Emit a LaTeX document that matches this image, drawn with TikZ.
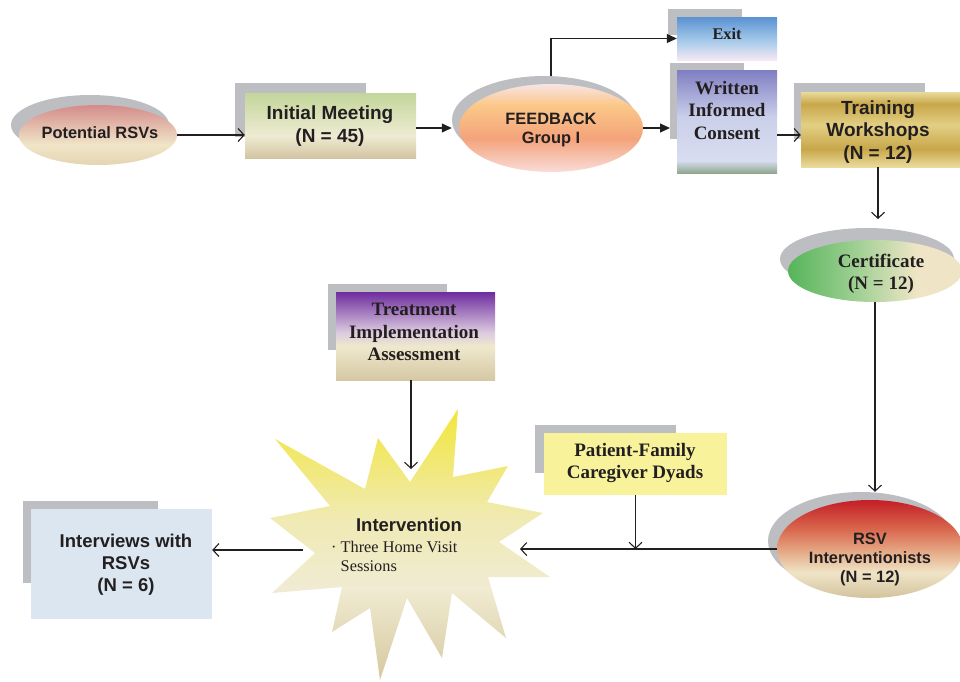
\documentclass[tikz,border=0pt]{standalone}
\usepackage{fontspec}
\setmainfont{Liberation Serif}
\setsansfont{Liberation Sans}
\usetikzlibrary{shapes.geometric,arrows.meta}

\definecolor{ink}{HTML}{231F20}
\definecolor{shadowgray}{HTML}{BDBEC2}
\definecolor{potrose}{HTML}{D48C8B}
\definecolor{potcream}{HTML}{F0E5C8}
\definecolor{pottan}{HTML}{E4D5B2}
\definecolor{meetgreen}{HTML}{C3D69B}
\definecolor{meetcream}{HTML}{EEEBD2}
\definecolor{meettan}{HTML}{D3C4A2}
\definecolor{fbpale}{HTML}{F8E4E6}
\definecolor{fborange}{HTML}{FBC888}
\definecolor{fbsalmon}{HTML}{F4A37B}
\definecolor{fbpink}{HTML}{F9DCD8}
\definecolor{exitblue}{HTML}{5B92D2}
\definecolor{exitsky}{HTML}{A7CBEA}
\definecolor{exitpink}{HTML}{F5E8F2}
\definecolor{wicpurple}{HTML}{7F7EC2}
\definecolor{wiclav}{HTML}{CBD0EA}
\definecolor{wicpale}{HTML}{D8DDF0}
\definecolor{wicgreen}{HTML}{8FA88E}
\definecolor{goldlight}{HTML}{EADB9C}
\definecolor{golddark}{HTML}{C8A74A}
\definecolor{goldmid}{HTML}{E2CF84}
\definecolor{certgreen}{HTML}{56B45A}
\definecolor{certmint}{HTML}{A0D094}
\definecolor{certcream}{HTML}{EFE5C6}
\definecolor{treatpurple}{HTML}{6E2C9E}
\definecolor{treatlilac}{HTML}{DCCBE0}
\definecolor{treatcream}{HTML}{EFE8CC}
\definecolor{treattan}{HTML}{D5C8A4}
\definecolor{dyadyellow}{HTML}{F8F39B}
\definecolor{rsvred}{HTML}{C41F26}
\definecolor{rsvorange}{HTML}{D9684E}
\definecolor{rsvpeach}{HTML}{E6AE8A}
\definecolor{rsvcream}{HTML}{EFE4C6}
\definecolor{rsvtan}{HTML}{D3C39E}
\definecolor{intwblue}{HTML}{DCE6F1}
\definecolor{staryellow}{HTML}{F2E63A}
\definecolor{starpale}{HTML}{F0EAB2}
\definecolor{starcream}{HTML}{F0EBD2}
\definecolor{startan}{HTML}{D6C89E}

\pgfdeclareverticalshading{potshade}{100bp}{color(0bp)=(pottan); color(25bp)=(pottan); color(42bp)=(potcream); color(75bp)=(potrose); color(100bp)=(potrose)}
\pgfdeclareverticalshading{meetshade}{100bp}{color(0bp)=(meettan); color(25bp)=(meettan); color(42bp)=(meetcream); color(75bp)=(meetgreen); color(100bp)=(meetgreen)}
\pgfdeclareverticalshading{fbshade}{100bp}{color(0bp)=(fbpink); color(25bp)=(fbpink); color(44bp)=(fbsalmon); color(63bp)=(fborange); color(75bp)=(fbpale); color(100bp)=(fbpale)}
\pgfdeclareverticalshading{exitshade}{100bp}{color(0bp)=(exitpink); color(25bp)=(exitpink); color(47bp)=(exitsky); color(75bp)=(exitblue); color(100bp)=(exitblue)}
\pgfdeclareverticalshading{wicshade}{100bp}{color(0bp)=(wicgreen); color(25bp)=(wicgreen); color(31bp)=(wicpale); color(52bp)=(wiclav); color(75bp)=(wicpurple); color(100bp)=(wicpurple)}
\pgfdeclareverticalshading{trainshade}{100bp}{color(0bp)=(goldlight); color(25bp)=(goldlight); color(37bp)=(golddark); color(53bp)=(goldmid); color(67bp)=(golddark); color(75bp)=(goldlight); color(100bp)=(goldlight)}
\pgfdeclarehorizontalshading{certshade}{100bp}{color(0bp)=(certgreen); color(25bp)=(certgreen); color(45bp)=(certmint); color(62bp)=(certcream); color(100bp)=(certcream)}
\pgfdeclareverticalshading{treatshade}{100bp}{color(0bp)=(treattan); color(25bp)=(treattan); color(44bp)=(treatcream); color(52bp)=(treatlilac); color(75bp)=(treatpurple); color(100bp)=(treatpurple)}
\pgfdeclareverticalshading{rsvshade}{100bp}{color(0bp)=(rsvtan); color(25bp)=(rsvtan); color(38bp)=(rsvcream); color(48bp)=(rsvpeach); color(60bp)=(rsvorange); color(75bp)=(rsvred); color(100bp)=(rsvred)}
\pgfdeclareverticalshading{starshade}{100bp}{color(0bp)=(startan); color(25bp)=(startan); color(42bp)=(starcream); color(55bp)=(starpale); color(75bp)=(staryellow); color(100bp)=(staryellow)}

\tikzset{
  boxshadow/.style={rectangle, fill=shadowgray, inner sep=0pt, anchor=north west},
  ovalshadow/.style={ellipse, fill=shadowgray, inner sep=0pt},
  flowbox/.style={rectangle, inner sep=0pt},
  flowoval/.style={ellipse, inner sep=0pt},
  sanslarge/.style={text=ink, align=center, font=\sffamily\bfseries\fontsize{19}{22.5}\selectfont},
  sanssmall/.style={text=ink, align=center, font=\sffamily\bfseries\fontsize{16.4}{19}\selectfont},
  seriflarge/.style={text=ink, align=center, font=\rmfamily\bfseries\fontsize{19}{22.5}\selectfont},
  arrowline/.style={draw=ink, line width=1.1pt, -{Straight Barb[length=6pt,width=13pt,line width=1.1pt]}},
  filledline/.style={draw=ink, line width=1.1pt, -{Triangle[length=10pt,width=9pt]}}
}

\begin{document}
\begin{tikzpicture}[x=1pt,y=-1pt]
\useasboundingbox (0,0) rectangle (960,681);

% top row
\node[ovalshadow, minimum width=158pt, minimum height=60pt] (potS) at (90,125) {};
\node[flowoval, shade, shading=potshade, minimum width=158pt, minimum height=60pt] (pot) at (98,135) {};
\node[sanssmall] (potT) at (100,133) {Potential RSVs};

\node[boxshadow, minimum width=131pt, minimum height=54pt] (meetS) at (235,83) {};
\node[flowbox, shade, shading=meetshade, minimum width=171pt, minimum height=65pt] (meet) at (330.5,125.5) {};
\node[sanslarge] (meetT) at (330,126) {Initial Meeting\\(N = 45)};

\node[ovalshadow, minimum width=184pt, minimum height=88pt] (fbS) at (544,120) {};
\node[flowoval, shade, shading=fbshade, minimum width=184pt, minimum height=88pt] (fb) at (551,128) {};
\node[sanssmall] (fbT) at (551,130) {FEEDBACK\\Group I};

\node[boxshadow, minimum width=74pt, minimum height=26pt] (exitS) at (668,9) {};
\node[flowbox, shade, shading=exitshade, minimum width=100pt, minimum height=43pt] (exit) at (727,38.5) {};
\node[text=ink, font=\rmfamily\bfseries\fontsize{16.3}{19}\selectfont] (exitT) at (727,34) {Exit};

\node[boxshadow, minimum width=74pt, minimum height=76pt] (wicS) at (670,63) {};
\node[flowbox, shade, shading=wicshade, minimum width=100pt, minimum height=103pt] (wic) at (727,121.5) {};
\node[seriflarge] (wicT) at (727,110) {Written\\Informed\\Consent};

\node[boxshadow, minimum width=131pt, minimum height=56pt] (trainS) at (794,83) {};
\node[flowbox, shade, shading=trainshade, minimum width=159pt, minimum height=75pt] (train) at (880.5,129.5) {};
\node[sanslarge] (trainT) at (878,132) {Training\\Workshops\\(N = 12)};

% right column
\node[ovalshadow, minimum width=174pt, minimum height=62pt] (certS) at (867,259) {};
\node[flowoval, shade, shading=certshade, minimum width=174pt, minimum height=62pt] (cert) at (875,271) {};
\node[seriflarge] (certT) at (881,274) {Certificate\\(N = 12)};

\node[ovalshadow, minimum width=186pt, minimum height=98pt] (rsvS) at (861,541) {};
\node[flowoval, shade, shading=rsvshade, minimum width=186pt, minimum height=98pt] (rsv) at (870,549) {};
\node[sanssmall] (rsvT) at (870,559) {RSV\\Interventionists\\(N = 12)};

% middle
\node[boxshadow, minimum width=119pt, minimum height=66pt] (treatS) at (328,284) {};
\node[flowbox, shade, shading=treatshade, minimum width=159pt, minimum height=88pt] (treat) at (415.5,336) {};
\node[seriflarge] (treatT) at (414,332) {Treatment\\Implementation\\Assessment};

\node[boxshadow, minimum width=141pt, minimum height=48pt] (pfcS) at (535,425) {};
\node[flowbox, fill=dyadyellow, minimum width=183pt, minimum height=62pt] (pfc) at (635.5,464) {};
\node[seriflarge] (pfcT) at (635,463) {Patient-Family\\Caregiver Dyads};

% intervention star
\shade[shading=starshade] (458,409) -- (453,477) -- (508,466) -- (487,502) -- (543,513)
  -- (499,542) -- (550,577) -- (488,577) -- (506,638) -- (452,593) -- (442,658)
  -- (407,598) -- (380,680) -- (370,608) -- (332,632) -- (342,587) -- (272,593)
  -- (315,553) -- (270,518) -- (330,506) -- (275,439) -- (365,489) -- (378,438)
  -- (410,482) -- cycle;
\node[text=ink, font=\sffamily\bfseries\fontsize{18.5}{22}\selectfont] (intvHead) at (409,525) {Intervention};
\node[text=ink, align=left, anchor=north west, inner sep=0pt, font=\rmfamily\fontsize{16.3}{18.5}\selectfont] (intvBody) at (331,541)
  {\textperiodcentered\ Three Home Visit\\\hphantom{\textperiodcentered\ }Sessions};
\coordinate (intvTop) at (411,469);
\coordinate (intvRight) at (520,549);
\coordinate (intvLeft) at (303,550);
\coordinate (certIn) at (878,219);

% bottom left
\node[boxshadow, minimum width=135pt, minimum height=82pt] (intwS) at (23,501) {};
\node[flowbox, fill=intwblue, minimum width=181pt, minimum height=110pt] (intw) at (121.5,564) {};
\node[sanslarge, font=\sffamily\bfseries\fontsize{18.5}{22}\selectfont] (intwT) at (126,565) {Interviews with\\RSVs\\(N = 6)};

% connectors
\draw[arrowline] (pot.east) -- (pot.east -| meet.west);
\draw[filledline] (fb.west -| meet.east) -- (fb.west -| fbS.west);
\draw[filledline] (fb.east) -- (fb.east -| wicS.west);
\draw[filledline] (fb.north |- fbS.north) |- (exit.west);
\draw[arrowline] ([yshift=-13.5pt]wic.east) -- ([yshift=-13.5pt]wic.east -| train.west);
\draw[arrowline] (certIn |- train.south) -- (certIn);
\draw[arrowline] (cert.south) -- (cert.south |- rsvS.north);
\draw[arrowline] (rsv.west) -- (intvRight);
\draw[arrowline] (pfc.south) -- (pfc.south |- intvRight);
\draw[arrowline] (intvTop |- treat.south) -- (intvTop);
\draw[arrowline] (intvLeft) -- (intvLeft -| intw.east);

\end{tikzpicture}
\end{document}
